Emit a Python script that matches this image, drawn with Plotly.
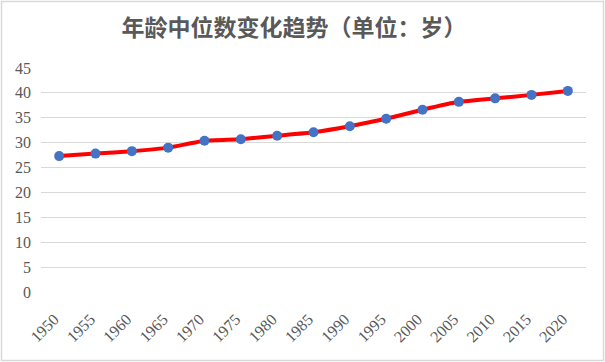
import plotly.graph_objects as go

years = ["1950", "1955", "1960", "1965", "1970", "1975", "1980", "1985",
         "1990", "1995", "2000", "2005", "2010", "2015", "2020"]
median_age = [27.3, 27.8, 28.3, 29.0, 30.4, 30.7, 31.4, 32.1,
              33.3, 34.8, 36.6, 38.2, 38.9, 39.6, 40.4]
y_ticks = [0, 5, 10, 15, 20, 25, 30, 35, 40, 45]
title_text = "年龄中位数变化趋势（单位：岁）"

fig = go.Figure()
fig.add_trace(go.Scatter(
    x=years, y=median_age, mode="lines+markers",
    line=dict(color="#FF0000", width=4, shape="spline", smoothing=0.4),
    marker=dict(color="#4472C4", size=10),
    hoverinfo="x+y", showlegend=False,
))

L, R, T, B = 41, 19, 68, 70
W, H = 605, 362
pw, ph = W - L - R, H - T - B

fig.update_layout(
    width=W, height=H,
    margin=dict(l=L, r=R, t=T, b=B, autoexpand=False),
    paper_bgcolor="white", plot_bgcolor="white",
    title=dict(text="<b>" + title_text + "</b>", x=294 / W, xref="container", xanchor="center",
               y=1 - 28 / H, yanchor="middle", yref="container",
               font=dict(family="Noto Sans CJK SC", size=23, color="#595959")),
    xaxis=dict(type="category", range=[-0.5, len(years) - 0.5], automargin=False,
               showgrid=False, zeroline=False, showline=False, ticks="",
               tickangle=-45, ticklabelstandoff=14, ticklabelshift=-5,
               tickfont=dict(family="Liberation Serif", size=16, color="#595959")),
    yaxis=dict(range=[0, 45], tickvals=y_ticks, showgrid=True, gridcolor="#D9D9D9",
               gridwidth=1, zeroline=False, showline=False, ticks="", automargin=False,
               ticklabelstandoff=9,
               tickfont=dict(family="Liberation Serif", size=16, color="#595959")),
    shapes=[dict(type="rect", xref="paper", yref="paper",
                 x0=(1.5 - L) / pw, x1=(W - 1.5 - L) / pw,
                 y0=(H - B - (H - 1.5)) / ph, y1=(H - B - 1.5) / ph,
                 line=dict(color="#D9D9D9", width=1.5), layer="above")],
)

fig.write_html("out.html", config={"displayModeBar": False},
               post_script="document.body.style.margin='0';document.body.style.padding='0';")
